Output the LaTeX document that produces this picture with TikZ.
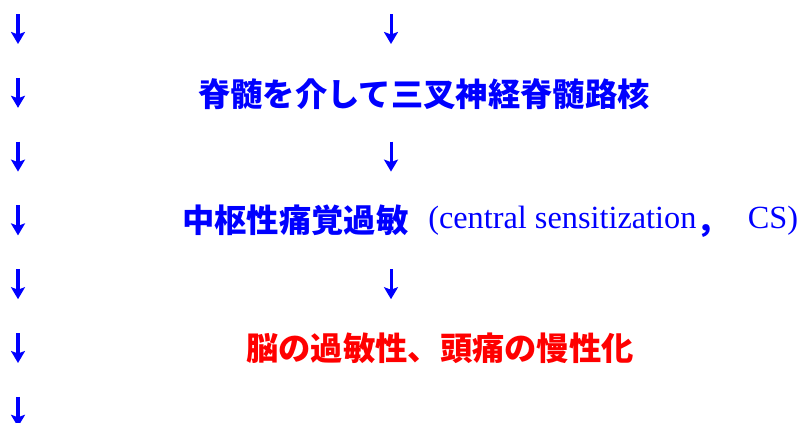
\documentclass[tikz,border=0pt]{standalone}
\usepackage{fontspec}
\setmainfont{Liberation Serif}
\newfontfamily\jp{Noto Sans CJK JP}
\usetikzlibrary{arrows.meta}
\definecolor{pblue}{RGB}{0,0,255}
\definecolor{pred}{RGB}{255,0,0}
\tikzset{
  leftarrow/.style={draw=pblue, line width=3.5pt, -{Stealth[length=12pt,width=14pt,inset=2.5pt]}},
  midarrow/.style={draw=pblue, line width=3pt, -{Stealth[length=12pt,width=14pt,inset=2.5pt]}},
  jtext/.style={inner sep=0pt, font=\jp\bfseries\fontsize{32.3}{38}\selectfont}
}
\begin{document}
\begin{tikzpicture}[x=1pt,y=-1pt]
\useasboundingbox (0,0) rectangle (801,423);
\clip (0,0) rectangle (801,423);
\foreach \i in {0,...,6} {
  \coordinate (ls\i) at (18,{14+63.8*\i});
  \coordinate (le\i) at (18,{44+63.8*\i});
  \draw[leftarrow] (ls\i) -- (le\i);
}
\foreach \i/\k in {0/0,1/2,2/4} {
  \coordinate (ms\i) at (391,{14+63.8*\k});
  \coordinate (me\i) at (391,{44+63.8*\k});
  \draw[midarrow] (ms\i) -- (me\i);
}
\node[jtext, text=pblue, anchor=base] (l2) at (424,106.7) {脊髄を介して三叉神経脊髄路核};
\node[jtext, text=pblue, anchor=base west] (l4) at (182,232.7)
  {中枢性痛覚過敏\hspace{20pt}\raisebox{4.7pt}{\rmfamily\mdseries (central sensitization}，\hspace{19pt}\raisebox{4.7pt}{\rmfamily\mdseries CS)}};
\node[jtext, text=pred, anchor=base] (l6) at (440,360.7) {脳の過敏性、頭痛の慢性化};
\end{tikzpicture}
\end{document}
